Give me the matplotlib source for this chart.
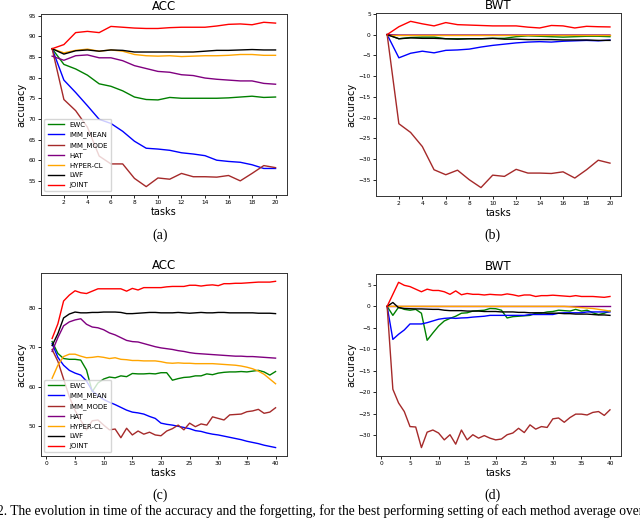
import matplotlib
matplotlib.use('Agg')
import matplotlib.pyplot as plt
from matplotlib.ticker import MultipleLocator

methods = ['EWC', 'IMM_MEAN', 'IMM_MODE', 'HAT', 'HYPER-CL', 'LWF', 'JOINT']
colors = ['green', 'blue', 'brown', 'purple', 'orange', 'black', 'red']

tasks20 = list(range(1, 21))
tasks40 = list(range(1, 41))

# ACC, 20 tasks
acc20_ewc = [87.0, 83.2, 82.1, 80.6, 78.5, 77.9, 76.8, 75.3, 74.7, 74.6, 75.2, 75.0, 75.0, 75.0, 75.0, 75.1, 75.3, 75.5, 75.2, 75.3]
acc20_imm_mean = [87.0, 79.4, 76.4, 73.2, 69.9, 68.9, 67.0, 64.6, 62.9, 62.7, 62.4, 61.8, 61.5, 61.1, 60.0, 59.7, 59.5, 58.9, 58.0, 58.0]
acc20_imm_mode = [87.0, 74.7, 72.0, 68.0, 61.0, 59.1, 59.1, 55.6, 53.6, 55.7, 55.4, 56.8, 56.0, 56.0, 55.9, 56.3, 55.0, 56.8, 58.7, 58.2]
acc20_hat = [85.2, 84.2, 85.3, 85.5, 84.8, 84.8, 84.1, 82.9, 82.2, 81.5, 81.3, 80.7, 80.5, 79.9, 79.6, 79.4, 79.2, 79.2, 78.6, 78.4]
acc20_hyper = [87.0, 86.0, 86.6, 86.9, 86.4, 86.7, 86.4, 85.6, 85.3, 85.2, 85.3, 85.1, 85.2, 85.3, 85.3, 85.4, 85.6, 85.6, 85.4, 85.4]
acc20_lwf = [87.0, 85.7, 86.5, 86.7, 86.4, 86.7, 86.6, 86.2, 86.2, 86.2, 86.2, 86.2, 86.2, 86.4, 86.6, 86.6, 86.7, 86.8, 86.7, 86.7]
acc20_joint = [87.0, 88.0, 90.9, 91.2, 90.9, 92.4, 92.2, 92.0, 91.9, 91.9, 92.1, 92.2, 92.2, 92.2, 92.5, 92.9, 93.0, 92.8, 93.4, 93.2]

# BWT, 20 tasks
bwt20_ewc = [0.0, -1.0, -0.7, -0.6, -0.6, -1.0, -1.0, -1.0, -1.0, -0.9, -0.9, -0.5, -0.3, -0.4, -0.5, -0.6, -0.5, -0.4, -0.4, -0.5]
bwt20_imm_mean = [0.0, -5.6, -4.5, -4.0, -4.4, -3.8, -3.7, -3.5, -3.0, -2.6, -2.3, -2.0, -1.8, -1.7, -1.8, -1.6, -1.5, -1.4, -1.5, -1.3]
bwt20_imm_mode = [0.0, -21.5, -23.6, -27.0, -32.6, -33.8, -32.7, -35.0, -36.9, -33.9, -34.2, -32.5, -33.4, -33.4, -33.5, -33.1, -34.6, -32.6, -30.3, -31.0]
bwt20_hat = [0.0, -0.1, -0.1, -0.1, -0.1, -0.1, -0.1, -0.1, -0.1, -0.1, -0.1, -0.1, -0.1, -0.1, -0.1, -0.1, -0.1, -0.1, -0.1, -0.1]
bwt20_hyper = [0.0, 0.0, 0.0, 0.0, 0.0, 0.0, 0.0, 0.0, 0.0, 0.0, 0.0, 0.0, 0.0, 0.0, 0.0, 0.0, 0.0, 0.0, 0.0, 0.0]
bwt20_lwf = [0.0, -1.0, -0.8, -0.9, -0.9, -1.0, -1.1, -1.0, -1.0, -0.9, -1.1, -1.1, -1.2, -1.2, -1.2, -1.3, -1.3, -1.3, -1.4, -1.4]
bwt20_joint = [0.0, 1.9, 3.2, 2.6, 2.1, 2.9, 2.4, 2.3, 2.2, 2.1, 2.1, 2.1, 1.8, 1.6, 2.2, 2.1, 1.6, 2.0, 1.9, 1.85]

# ACC, 40 tasks
acc40_ewc = [71.5, 68.5, 67.2, 67.0, 67.0, 66.8, 64.3, 58.8, 61.0, 62.0, 62.5, 62.3, 62.8, 62.6, 63.4, 63.3, 63.3, 63.4, 63.3, 63.6,
             63.6, 61.7, 62.1, 62.4, 62.5, 62.8, 62.8, 63.3, 63.1, 63.5, 63.7, 63.8, 63.8, 63.9, 63.8, 64.0, 64.2, 63.8, 63.0, 63.9]
acc40_imm_mean = [71.0, 67.5, 65.5, 64.2, 63.5, 63.0, 61.5, 59.0, 57.8, 56.8, 56.1, 55.5, 54.8, 54.1, 53.6, 53.4, 53.1, 52.5, 52.0, 50.8,
                  50.5, 50.3, 50.0, 49.7, 49.4, 48.9, 48.7, 48.3, 48.0, 47.8, 47.5, 47.2, 46.9, 46.6, 46.2, 45.9, 45.6, 45.2, 44.9, 44.6]
acc40_imm_mode = [69.5, 66.5, 62.0, 57.5, 54.0, 51.5, 49.1, 51.4, 51.6, 50.3, 49.1, 49.3, 47.1, 49.5, 47.8, 48.8, 48.0, 48.5, 47.8, 47.6,
                  48.8, 49.4, 50.3, 49.1, 50.8, 49.9, 50.6, 50.3, 52.4, 52.0, 51.6, 52.9, 53.0, 53.1, 53.7, 53.9, 54.3, 53.3, 53.6, 54.7]
acc40_hat = [69.0, 72.5, 75.5, 76.5, 77.0, 77.3, 75.9, 75.2, 75.0, 74.5, 73.7, 73.2, 72.5, 71.8, 71.5, 71.4, 71.0, 70.6, 70.2, 69.9,
             69.7, 69.5, 69.2, 69.0, 68.7, 68.5, 68.4, 68.3, 68.2, 68.1, 68.0, 67.9, 67.8, 67.8, 67.7, 67.7, 67.6, 67.5, 67.4, 67.3]
acc40_hyper = [62.2, 65.5, 67.7, 68.3, 68.3, 67.8, 67.4, 67.5, 67.7, 67.5, 67.2, 67.4, 67.0, 66.9, 66.7, 66.7, 66.6, 66.6, 66.6, 66.4,
               66.1, 66.0, 66.1, 66.0, 66.0, 65.9, 65.9, 65.9, 65.9, 65.8, 65.7, 65.6, 65.5, 65.3, 65.0, 64.6, 64.0, 63.2, 62.0, 60.8]
acc40_lwf = [70.5, 73.5, 77.5, 78.5, 79.0, 78.8, 78.8, 78.9, 78.9, 79.0, 79.0, 79.0, 78.9, 78.6, 78.6, 78.7, 78.8, 78.9, 78.9, 78.8,
             78.8, 78.8, 78.9, 78.8, 78.7, 78.8, 78.9, 78.8, 78.8, 78.9, 78.9, 78.8, 78.8, 78.8, 78.8, 78.8, 78.7, 78.7, 78.7, 78.6]
acc40_joint = [72.3, 76.0, 81.8, 83.3, 84.4, 83.9, 83.7, 84.3, 84.9, 84.9, 84.9, 84.9, 84.9, 84.3, 85.0, 84.6, 85.2, 85.2, 85.2, 85.2,
               85.4, 85.5, 85.5, 85.5, 85.8, 85.8, 85.6, 85.8, 85.9, 85.7, 86.2, 86.2, 86.3, 86.3, 86.4, 86.5, 86.6, 86.6, 86.6, 86.8]

# BWT, 40 tasks
bwt40_ewc = [0.0, -2.1, -0.2, -0.7, -0.9, -0.7, -1.6, -7.9, -6.2, -4.6, -3.4, -2.8, -2.3, -1.6, -1.5, -1.1, -1.0, -0.9, -0.5, -0.55,
             -0.9, -2.7, -2.4, -2.3, -2.2, -2.1, -1.6, -1.6, -1.3, -1.2, -0.9, -1.0, -1.1, -0.7, -1.1, -0.9, -1.5, -1.9, -1.6, -1.1]
bwt40_imm_mean = [0.0, -7.7, -6.5, -5.5, -4.1, -4.1, -4.1, -3.8, -3.4, -3.0, -2.8, -2.7, -2.8, -2.7, -2.65, -2.5, -2.4, -2.3, -2.1, -2.1,
                  -2.1, -2.1, -2.1, -2.1, -2.1, -1.9, -1.9, -1.9, -1.9, -1.9, -1.6, -1.5, -1.5, -1.5, -1.5, -1.3, -1.3, -1.3, -1.3, -1.3]
bwt40_imm_mode = [0.0, -19.3, -22.5, -24.5, -28.0, -28.1, -32.9, -29.3, -28.8, -29.5, -31.1, -29.9, -32.1, -28.8, -31.1, -29.9, -30.7, -30.1, -30.7, -31.1,
                  -30.9, -29.9, -29.5, -28.4, -29.4, -27.6, -28.6, -28.0, -28.2, -26.2, -26.0, -27.0, -25.9, -25.1, -25.1, -25.3, -24.7, -24.5, -25.4, -24.1]
bwt40_hat = [0.0] * 40
bwt40_hyper = [0.0] * 32 + [-0.1, -0.2, -0.3, -0.4, -0.5, -0.7, -0.9, -1.1]
bwt40_lwf = [0.0, 0.9, -0.3, -0.5, -0.55, -0.6, -0.6, -0.65, -0.7, -0.7, -0.9, -1.0, -1.0, -1.0, -1.1, -1.1, -1.1, -1.2, -1.2, -1.2,
             -1.3, -1.3, -1.3, -1.4, -1.4, -1.5, -1.5, -1.5, -1.6, -1.6, -1.6, -1.7, -1.7, -1.8, -1.8, -1.8, -1.9, -2.0, -2.0, -2.1]
bwt40_joint = [0.0, 2.8, 5.6, 4.9, 4.6, 4.0, 3.4, 4.0, 3.7, 3.7, 3.4, 2.8, 3.6, 2.7, 3.0, 2.8, 2.8, 2.65, 2.8, 2.7,
               2.65, 2.9, 2.7, 2.4, 2.65, 2.65, 2.3, 2.5, 2.5, 2.6, 2.5, 2.4, 2.3, 2.5, 2.3, 2.3, 2.3, 2.2, 2.1, 2.3]

acc20 = [acc20_ewc, acc20_imm_mean, acc20_imm_mode, acc20_hat, acc20_hyper, acc20_lwf, acc20_joint]
bwt20 = [bwt20_ewc, bwt20_imm_mean, bwt20_imm_mode, bwt20_hat, bwt20_hyper, bwt20_lwf, bwt20_joint]
acc40 = [acc40_ewc, acc40_imm_mean, acc40_imm_mode, acc40_hat, acc40_hyper, acc40_lwf, acc40_joint]
bwt40 = [bwt40_ewc, bwt40_imm_mean, bwt40_imm_mode, bwt40_hat, bwt40_hyper, bwt40_lwf, bwt40_joint]


def draw_panel(ax, x, series, title, xstep, ystep, legend=False):
    for name, vals, c in zip(methods, series, colors):
        ax.plot(x, vals, color=c, lw=1.0, label=name)
    ax.set_title(title, fontsize=8.5, pad=2.8)
    ax.set_xlabel('tasks', fontsize=7, labelpad=1.5)
    ax.set_ylabel('accuracy', fontsize=7, labelpad=1.5)
    ax.xaxis.set_major_locator(MultipleLocator(xstep))
    ax.yaxis.set_major_locator(MultipleLocator(ystep))
    ax.tick_params(labelsize=4.2, length=2.2, width=0.6, pad=1.5)
    for s in ax.spines.values():
        s.set_linewidth(0.7)
        s.set_color('#333333')
    if legend:
        ax.legend(loc='lower left', fontsize=5.0, handlelength=2.3, labelspacing=0.55,
                  borderpad=0.45, handletextpad=0.9, borderaxespad=0.5)


fig = plt.figure(figsize=(6.4, 5.21), dpi=100)

ax_a = fig.add_axes([0.064, 0.626, 0.384, 0.347])
ax_b = fig.add_axes([0.5875, 0.624, 0.383, 0.351])
ax_c = fig.add_axes([0.064, 0.125, 0.384, 0.351])
ax_d = fig.add_axes([0.5875, 0.125, 0.383, 0.349])

draw_panel(ax_a, tasks20, acc20, 'ACC', 2, 5, legend=True)
draw_panel(ax_b, tasks20, bwt20, 'BWT', 2, 5)
draw_panel(ax_c, tasks40, acc40, 'ACC', 5, 10, legend=True)
draw_panel(ax_d, tasks40, bwt40, 'BWT', 5, 5)

serif = 'Liberation Serif'
fig.text(0.25, 1 - 235 / 521, '(a)', ha='center', va='center', fontsize=10, family=serif)
fig.text(0.77, 1 - 235 / 521, '(b)', ha='center', va='center', fontsize=10, family=serif)
fig.text(0.25, 1 - 495 / 521, '(c)', ha='center', va='center', fontsize=10, family=serif)
fig.text(0.77, 1 - 495 / 521, '(d)', ha='center', va='center', fontsize=10, family=serif)
fig.text(-0.004, 1 - 511 / 521,
         '2. The evolution in time of the accuracy and the forgetting, for the best performing setting of each method average over',
         ha='left', va='center', fontsize=9.75, family=serif)

fig.savefig('out.png', dpi=100)
